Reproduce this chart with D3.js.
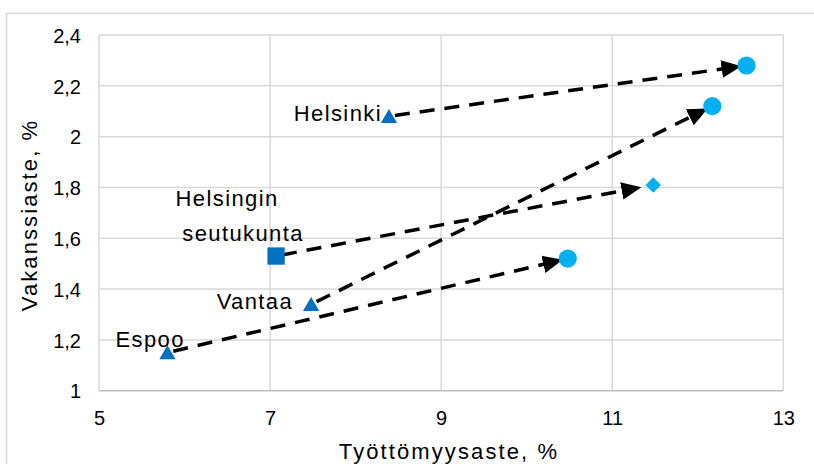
<!DOCTYPE html>
<html><head><meta charset="utf-8">
<script src="https://cdn.jsdelivr.net/npm/d3@7"></script>
<style>
html,body{margin:0;padding:0;background:#fff;}
svg{display:block;}
text{font-family:"Liberation Sans",Arial,sans-serif;fill:#000;}
</style></head>
<body>
<svg id="chart" width="814" height="464"></svg>
<script>
// ---- data ----
const seriesNames = ["Helsinki", "Vantaa", "Espoo", "Helsingin seutukunta"];
const startX = [8.39, 7.48, 5.80, 7.07];
const startY = [2.08, 1.34, 1.15, 1.53];
const endX   = [12.57, 12.17, 10.48, 11.48];
const endY   = [2.28, 2.12, 1.52, 1.81];
const startShape = ["triangle", "triangle", "triangle", "square"];
const endShape   = ["circle", "circle", "circle", "diamond"];
const xTicks = [5, 7, 9, 11, 13];
const yTicks = [1, 1.2, 1.4, 1.6, 1.8, 2, 2.2, 2.4];
const xTitle = "Työttömyysaste, %";
const yTitle = "Vakanssiaste, %";

// ---- styles / layout ----
const plot = {left: 99, right: 783.3, top: 35, bottom: 390.7};
const startColor = "#0070C0", endColor = "#00B0F0";
// label lines and offsets (px) relative to start point
const labelSpec = [
  [{t:"Helsinki", dx:-7, dy:5, a:"end"}],
  [{t:"Vantaa", dx:-18, dy:5, a:"end"}],
  [{t:"Espoo", dx:-52, dy:-6, a:"start"}],
  [{t:"Helsingin", dx:-49, dy:-50, a:"middle"}, {t:"seutukunta", dx:-33, dy:-15, a:"middle"}]
];

const svg = d3.select("#chart");
const x = d3.scaleLinear().domain([5, 13]).range([plot.left, plot.right]);
const y = d3.scaleLinear().domain([1, 2.4]).range([plot.bottom, plot.top]);

// outer chart border
svg.append("rect").attr("x", 6.5).attr("y", 13.5).attr("width", 830).attr("height", 470)
  .attr("fill", "none").attr("stroke", "#d9d9d9").attr("stroke-width", 1.5);

// gridlines
const g = svg.append("g");
g.selectAll(".gx").data(xTicks).join("line")
  .attr("x1", d => x(d)).attr("x2", d => x(d))
  .attr("y1", plot.top).attr("y2", plot.bottom)
  .attr("stroke", "#d9d9d9").attr("stroke-width", 1.5);
g.selectAll(".gy").data(yTicks).join("line")
  .attr("x1", plot.left).attr("x2", plot.right)
  .attr("y1", d => y(d)).attr("y2", d => y(d))
  .attr("stroke", d => d === 1 ? "#bfbfbf" : "#d9d9d9").attr("stroke-width", 1.5);

// axes (labels only) via d3 axis
const fmt = d => d3.format(".1~f")(d).replace(".", ",");
const xAxis = svg.append("g").attr("transform", `translate(0,${plot.bottom + 20})`)
  .call(d3.axisBottom(x).tickValues(xTicks).tickSize(0).tickFormat(d => String(d)));
const yAxis = svg.append("g").attr("transform", `translate(${plot.left - 18},0)`)
  .call(d3.axisLeft(y).tickValues(yTicks).tickSize(0).tickFormat(fmt));
[xAxis, yAxis].forEach(a => { a.select(".domain").remove(); a.selectAll("text").attr("font-size", 20).attr("fill", "#000").style("font-family", '"Liberation Sans",Arial,sans-serif'); });
xAxis.selectAll("text").attr("dy", 0).attr("y", 14);
yAxis.selectAll("text").attr("x", 0).attr("dy", "0.36em");

// axis titles
svg.append("text").attr("x", 449).attr("y", 459).attr("text-anchor", "middle")
  .attr("font-size", 22).attr("letter-spacing", 2.1).text(xTitle);
svg.append("text").attr("transform", "translate(37,215) rotate(-90)").attr("text-anchor", "middle")
  .attr("font-size", 22).attr("letter-spacing", 2.1).text(yTitle);

// arrowhead marker
svg.append("defs").append("marker").attr("id", "arr")
  .attr("markerUnits", "userSpaceOnUse").attr("markerWidth", 20).attr("markerHeight", 20)
  .attr("viewBox", "0 -8 17 16").attr("refX", 6).attr("refY", 0).attr("orient", "auto")
  .append("path").attr("d", "M0,-7.5 L17,0 L0,7.5 Z").attr("fill", "#000");

const idx = d3.range(seriesNames.length);
// arrows
svg.append("g").selectAll("line").data(idx).join("line")
  .each(function(i) {
    const x0 = x(startX[i]), y0 = y(startY[i]), x1 = x(endX[i]), y1 = y(endY[i]);
    const L = Math.hypot(x1 - x0, y1 - y0), ux = (x1 - x0) / L, uy = (y1 - y0) / L;
    const sGap = 6, eGap = (endShape[i] === "diamond" ? 14 : 7) + 11;
    d3.select(this).attr("x1", x0 + ux * sGap).attr("y1", y0 + uy * sGap)
      .attr("x2", x1 - ux * eGap).attr("y2", y1 - uy * eGap);
  })
  .attr("stroke", "#000").attr("stroke-width", 3.5).attr("stroke-dasharray", "15,10")
  .attr("marker-end", "url(#arr)");

// markers
const sym = {
  triangle: d3.symbol().type(d3.symbolTriangle).size(115),
  square: d3.symbol().type(d3.symbolSquare).size(300),
  circle: d3.symbol().type(d3.symbolCircle).size(260),
  diamond: d3.symbol().type(d3.symbolSquare).size(120)
};
svg.append("g").selectAll("path").data(idx).join("path")
  .attr("d", i => sym[startShape[i]]())
  .attr("transform", i => `translate(${x(startX[i])},${y(startY[i]) + (startShape[i] === "triangle" ? 2 : 0)})`)
  .attr("fill", startColor);
svg.append("g").selectAll("path").data(idx).join("path")
  .attr("d", i => sym[endShape[i]]())
  .attr("transform", i => `translate(${x(endX[i])},${y(endY[i])})` + (endShape[i] === "diamond" ? " rotate(45)" : ""))
  .attr("fill", endColor);

// labels
idx.forEach(i => {
  labelSpec[i].forEach(l => {
    svg.append("text").attr("x", x(startX[i]) + l.dx).attr("y", y(startY[i]) + l.dy)
      .attr("text-anchor", l.a).attr("font-size", 22).attr("letter-spacing", 1.4).text(l.t);
  });
});
</script>
</body></html>
